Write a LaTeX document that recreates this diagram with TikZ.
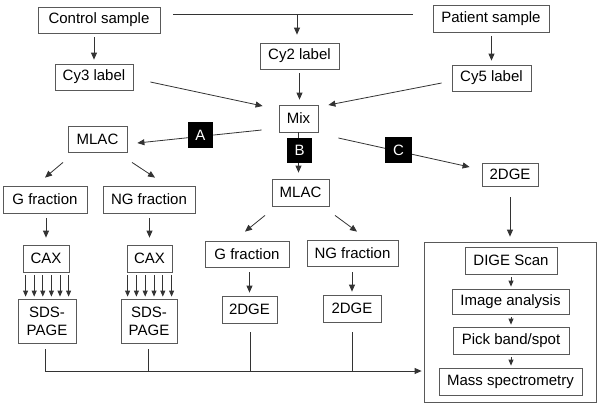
\documentclass[tikz,border=0pt]{standalone}
\usepackage{fontspec}
\setmainfont{Liberation Sans}
\usetikzlibrary{arrows.meta,calc}
\begin{document}
\begin{tikzpicture}[x=1pt,y=-1pt,
  box/.style={draw=black!65, line width=0.8pt, inner sep=0pt, align=center,
    font=\fontsize{15}{18}\selectfont},
  lab/.style={fill=black, inner sep=0pt, text=white,
    font=\fontsize{15}{18}\selectfont},
  ln/.style={draw=black!80, line width=0.8pt},
  arr/.style={ln, -{Triangle[length=7pt,width=6pt]}},
  sarr/.style={ln, -{Triangle[length=6pt,width=5pt]}}]
\useasboundingbox (0,0) rectangle (600,408);
% nodes
\node[box, minimum width=122pt, minimum height=26pt] (ctrl) at (99,20) {Control sample};
\node[box, minimum width=116pt, minimum height=27pt] (pat) at (491,18.5) {Patient sample};
\node[box, minimum width=79pt, minimum height=26pt] (cy2) at (299.5,56) {Cy2 label};
\node[box, minimum width=78pt, minimum height=26pt] (cy3) at (94,77) {Cy3 label};
\node[box, minimum width=79pt, minimum height=26pt] (cy5) at (491.5,78) {Cy5 label};
\node[box, minimum width=39pt, minimum height=27pt] (mix) at (298.5,118.5) {Mix};
\node[box, minimum width=59pt, minimum height=26pt] (mlacL) at (97.5,139) {MLAC};
\node[box, minimum width=57pt, minimum height=27pt] (mlacM) at (300.5,192.5) {MLAC};
\node[box, minimum width=56pt, minimum height=23pt] (dgeR) at (510,174.5) {2DGE};
\node[box, minimum width=172pt, minimum height=160pt] (big) at (510,322) {};
\node[box, minimum width=92pt, minimum height=27pt] (dige) at (511,260.5) {DIGE Scan};
\node[box, minimum width=117pt, minimum height=25pt] (img) at (510.5,301.5) {Image analysis};
\node[box, minimum width=116pt, minimum height=27pt] (pick) at (511,340.5) {Pick band/spot};
\node[box, minimum width=143pt, minimum height=27pt] (mass) at (510.5,381.5) {Mass spectrometry};
\node[box, minimum width=84pt, minimum height=27pt] (gL) at (45,199.5) {G fraction};
\node[box, minimum width=92pt, minimum height=27pt] (ngL) at (149,199.5) {NG fraction};
\node[box, minimum width=46pt, minimum height=27pt] (caxL) at (46,258.5) {CAX};
\node[box, minimum width=45pt, minimum height=27pt] (caxR) at (149.5,258.5) {CAX};
\node[box, minimum width=58pt, minimum height=44pt] (sdsL) at (47,321) {SDS-\\PAGE};
\node[box, minimum width=56pt, minimum height=44pt] (sdsR) at (149,321) {SDS-\\PAGE};
\node[box, minimum width=84pt, minimum height=26pt] (gM) at (247,254) {G fraction};
\node[box, minimum width=91pt, minimum height=26pt] (ngM) at (352.5,253) {NG fraction};
\node[box, minimum width=55pt, minimum height=27pt] (dgeML) at (249.5,309.5) {2DGE};
\node[box, minimum width=58pt, minimum height=27pt] (dgeMR) at (352,308.5) {2DGE};
% top
\coordinate (tl) at (173,14);
\coordinate (tr) at (413,14);
\coordinate (tm) at (297,14);
\draw[ln] (tl) -- (tr);
\draw[arr, shorten >=8pt] (tm) -- (tm |- cy2.north);
\draw[arr, shorten <=4pt, shorten >=4pt] (cy3.north |- ctrl.south) -- (cy3.north);
\draw[arr, shorten <=4pt, shorten >=4pt] (cy5.north |- pat.south) -- (cy5.north);
\draw[arr, shorten <=4pt, shorten >=5pt] (cy2.south) -- (cy2.south |- mix.north);
\draw[arr] ($(cy3.east)+(17,5)$) -- ($(mix.west)+(-16,-12.5)$);
\draw[arr] ($(cy5.west)+(-10,5)$) -- ($(mix.east)+(10,-13.5)$);
% A, B, C branches
\draw[arr] ($(mix.west)+(-17,11.5)$) -- ($(mlacL.east)+(10,4)$);
\draw[arr, shorten >=6pt] (mix.south) -- (mix.south |- mlacM.north);
\draw[arr] ($(mix.east)+(20,19.5)$) -- ($(dgeR.west)+(-12,-7.5)$);
\node[lab, minimum width=25pt, minimum height=26pt] (A) at (200.5,135) {A};
\node[lab, minimum width=25pt, minimum height=25pt] (B) at (299.5,150.5) {B};
\node[lab, minimum width=27pt, minimum height=26pt] (C) at (398.5,150) {C};
% left branch
\draw[arr] ($(mlacL.south)+(-34.5,10)$) -- ($(gL.north)+(0,-8)$);
\draw[arr] ($(mlacL.south)+(34.5,10)$) -- ($(ngL.north)+(6,-8)$);
\draw[arr, shorten <=5pt, shorten >=7pt] (caxL.north |- gL.south) -- (caxL.north);
\draw[arr, shorten <=5pt, shorten >=7pt] (caxR.north |- ngL.south) -- (caxR.north);
\foreach \i in {0,...,5} {
  \draw[sarr, shorten <=3pt, shorten >=2pt] ([xshift=3pt+\i*8.6pt]caxL.south west) -- ([xshift=3pt+\i*8.6pt]caxL.south west |- sdsL.north);
  \draw[sarr, shorten <=3pt, shorten >=2pt] ([xshift=1pt+\i*8.8pt]caxR.south west) -- ([xshift=1pt+\i*8.8pt]caxR.south west |- sdsR.north);
}
% middle branch
\draw[arr] ($(mlacM.south)+(-35.5,9)$) -- ($(gM.north)+(-2,-9)$);
\draw[arr] ($(mlacM.south)+(34.5,9)$) -- ($(ngM.north)+(4.5,-8)$);
\draw[arr, shorten <=5pt, shorten >=3pt] (dgeML.north |- gM.south) -- (dgeML.north);
\draw[arr, shorten <=6pt, shorten >=3pt] (dgeMR.north |- ngM.south) -- (dgeMR.north);
% right branch
\draw[arr, shorten <=11pt, shorten >=5pt] (dgeR.south) -- (dgeR.south |- big.north);
\draw[sarr, shorten <=3pt, shorten >=2pt] (dige.south) -- (dige.south |- img.north);
\draw[sarr, shorten <=3pt, shorten >=2pt] (dige.south |- img.south) -- (dige.south |- pick.north);
\draw[sarr, shorten <=3pt, shorten >=2pt] (dige.south |- pick.south) -- (dige.south |- mass.north);
% bottom collector
\coordinate (j1) at (45,371);
\coordinate (j2) at (148,371);
\coordinate (j3) at (250,371);
\coordinate (j4) at (352,371);
\draw[ln, shorten <=6pt] (sdsL.south -| j1) -- (j1);
\draw[ln, shorten <=6pt] (sdsR.south -| j2) -- (j2);
\draw[ln, shorten <=9pt] (dgeML.south -| j3) -- (j3);
\draw[ln, shorten <=10pt] (dgeMR.south -| j4) -- (j4);
\draw[arr, shorten >=2pt] (j1) -- (j1 -| big.west);
\end{tikzpicture}
\end{document}
